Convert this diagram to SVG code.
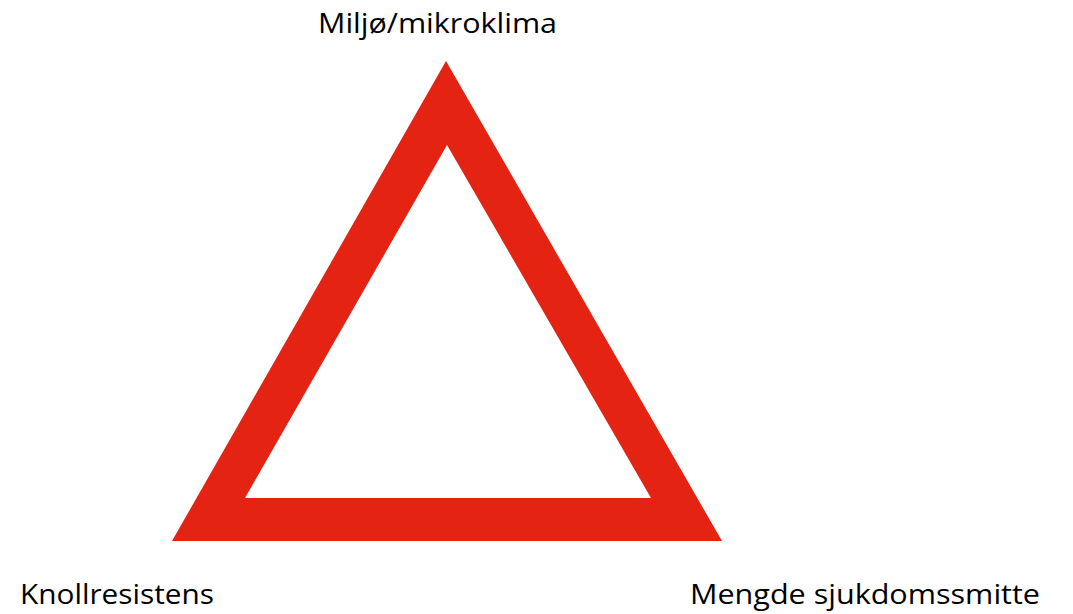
<svg xmlns="http://www.w3.org/2000/svg" width="1073" height="614" viewBox="0 0 1073 614">
<style>
.lbl{font-family:"Open Sans","Liberation Sans",sans-serif;font-size:27px;fill:#000}
.tri{fill:#e42313;fill-rule:evenodd}
</style>
<rect width="1073" height="614" fill="#fff"/>
<g id="triangle">
<path class="tri" d="M446,61 L722,541 L172,541 Z M447,145 L245,498 L651,498 Z"/>
</g>
<g id="node-top"><text class="lbl" x="318" y="33" textLength="239" lengthAdjust="spacingAndGlyphs">Miljø/mikroklima</text></g>
<g id="node-left"><text class="lbl" x="20" y="604" textLength="194" lengthAdjust="spacingAndGlyphs">Knollresistens</text></g>
<g id="node-right"><text class="lbl" x="690" y="604" textLength="350" lengthAdjust="spacingAndGlyphs">Mengde sjukdomssmitte</text></g>
<g id="connectors"></g>
</svg>
